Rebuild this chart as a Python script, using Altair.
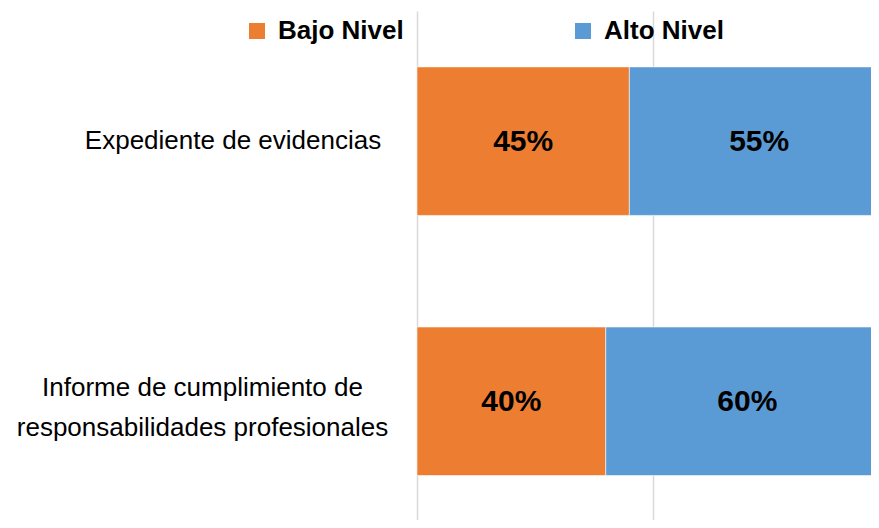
import altair as alt
import pandas as pd

categories = ["Expediente de evidencias",
              "Informe de cumplimiento de responsabilidades profesionales"]
label_lines = [["Expediente de evidencias"],
               ["Informe de cumplimiento de", "responsabilidades profesionales"]]
series = ["Bajo Nivel", "Alto Nivel"]
colors = ["#ED7D31", "#5B9BD5"]
bajo = [0.45, 0.40]
alto = [0.55, 0.60]

rows = []
for i, c in enumerate(categories):
    rows.append({"cat": c, "serie": series[0], "ord": 0, "val": bajo[i]})
    rows.append({"cat": c, "serie": series[1], "ord": 1, "val": alto[i]})
df = pd.DataFrame(rows)

FONT = "Liberation Sans, Arial, sans-serif"

# multi-line axis labels
expr = "datum.label"
for c, lines in zip(categories, label_lines):
    if len(lines) > 1:
        arr = "[" + ",".join("'" + l + "'" for l in lines) + "]"
        expr = f"datum.label == '{c}' ? {arr} : " + expr

xscale = alt.Scale(domain=[0, 0.962], nice=False, zero=True)
yscale = alt.Scale(paddingInner=0.429, paddingOuter=0.193, align=0.557)

first_test = f"datum.value == '{categories[0]}'"

base = alt.Chart(df).transform_stack(
    stack="val", groupby=["cat"], as_=["x0", "x1"],
    sort=[alt.SortField("ord", order="ascending")]
).transform_calculate(mid="(datum.x0 + datum.x1) / 2")

bars = base.mark_bar(clip=True, stroke="#ffffff", strokeWidth=0.8, strokeOpacity=0.7).encode(
    x=alt.X("x0:Q", scale=xscale,
            axis=alt.Axis(values=[0, 0.5, 1], labels=False, ticks=False, domain=False,
                          grid=True, gridColor="#d9d9d9", gridWidth=1.5, title=None)),
    x2="x1:Q",
    y=alt.Y("cat:N", sort=categories, scale=yscale,
            axis=alt.Axis(title=None, ticks=False, tickSize=0, domain=False, grid=False,
                          labelFont=FONT, labelFontSize=26, labelColor="#000000",
                          labelAlign="center", labelLineHeight=40, labelLimit=0,
                          labelPadding={"condition": {"test": first_test, "value": 184.5},
                                        "value": 215},
                          labelOffset={"condition": {"test": first_test, "value": 0},
                                       "value": -13},
                          labelExpr=expr)),
    color=alt.Color("serie:N", sort=series,
                    scale=alt.Scale(domain=series, range=colors),
                    legend=alt.Legend(title=None, orient="none", direction="horizontal",
                                      legendX=-173, legendY=7, padding=0,
                                      symbolType="square", symbolSize=256,
                                      symbolStrokeWidth=0, symbolOpacity=1,
                                      labelFont=FONT, labelFontSize=26,
                                      labelFontWeight="bold", labelColor="#000000",
                                      labelOffset=8, columnPadding=166, labelLimit=0)),
)

texts = base.mark_text(font=FONT, fontSize=30, fontWeight="bold", color="#000000",
                       baseline="middle", align="center", dy=1).encode(
    x=alt.X("mid:Q", scale=xscale),
    y=alt.Y("cat:N", sort=categories, scale=yscale),
    text=alt.Text("val:Q", format=".0%"),
)

chart = alt.layer(bars, texts).properties(
    width=454, height=509,
    autosize=alt.AutoSizeParams(type="none"),
    padding={"left": 409, "top": 3, "right": 0, "bottom": 0},
    background="#ffffff",
).configure_view(stroke=None)

chart.save("out.html", embed_options={"renderer": "svg", "actions": False})
